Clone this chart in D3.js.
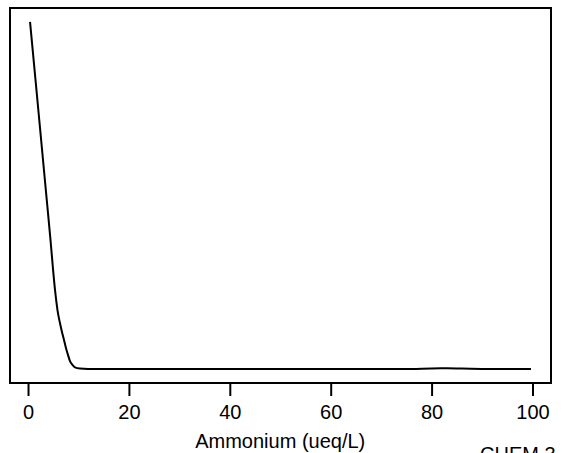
<!DOCTYPE html>
<html><head><meta charset="utf-8">
<script src="https://cdn.jsdelivr.net/npm/d3@7"></script>
<style>html,body{margin:0;padding:0;background:#fff;overflow:hidden}svg{display:block}</style>
</head><body>
<svg id="c" width="562" height="453"></svg>
<script>
// Data
const ammonium = [0.4, 1.4, 2.4, 3.4, 4.4, 5.35, 5.84, 6.34, 6.73, 7.13, 7.52, 7.92, 8.32, 8.81, 9.31, 10.3, 11.9, 15, 20, 30, 40, 50, 60, 70, 76, 80, 83, 86, 90, 95, 99.7];
const response = [1.0, 0.846, 0.691, 0.536, 0.381, 0.228, 0.170, 0.132, 0.107, 0.084, 0.061, 0.041, 0.023, 0.012, 0.005, 0.0015, 0.0003, 0, 0, 0, 0, 0, 0, 0, 0.0005, 0.0018, 0.0022, 0.0015, 0.0005, 0, 0];
const xTicks = [0, 20, 40, 60, 80, 100];
const xLabel = "Ammonium (ueq/L)";
const footer = "CHEM 3";

const svg = d3.select("#c");
const box = {left: 10, right: 551, top: 8, bottom: 383};
const pad = (ext) => { const d = (ext[1]-ext[0])*0.04; return [ext[0]-d, ext[1]+d]; };
const x = d3.scaleLinear().domain(pad(d3.extent(ammonium))).range([box.left, box.right]);
const y = d3.scaleLinear().domain(pad([0, 1])).range([box.bottom, box.top]);

const pts = ammonium.map((a, i) => [a, response[i]]);
svg.append("path")
  .attr("d", d3.line().x(d => x(d[0])).y(d => y(d[1])).curve(d3.curveMonotoneX)(pts))
  .attr("fill", "none").attr("stroke", "#000").attr("stroke-width", 2);

svg.append("rect")
  .attr("x", box.left).attr("y", box.top)
  .attr("width", box.right - box.left).attr("height", box.bottom - box.top)
  .attr("fill", "none").attr("stroke", "#000").attr("stroke-width", 2);

const ax = svg.append("g").attr("transform", `translate(0,${box.bottom})`)
  .call(d3.axisBottom(x).tickValues(xTicks).tickSize(13).tickPadding(9).tickFormat(d3.format("d")));
ax.select(".domain").remove();
ax.selectAll("line").attr("stroke", "#000").attr("stroke-width", 2);
ax.selectAll("text").attr("font-family", "Liberation Sans, Arial, sans-serif").attr("font-size", 20).attr("fill", "#000");

svg.append("text").attr("x", x(50)).attr("y", 448).attr("text-anchor", "middle")
  .attr("font-family", "Liberation Sans, Arial, sans-serif").attr("font-size", 20).text(xLabel);

svg.append("text").attr("x", 480).attr("y", 461)
  .attr("font-family", "Liberation Sans, Arial, sans-serif").attr("font-size", 20).text(footer);
</script>
</body></html>
